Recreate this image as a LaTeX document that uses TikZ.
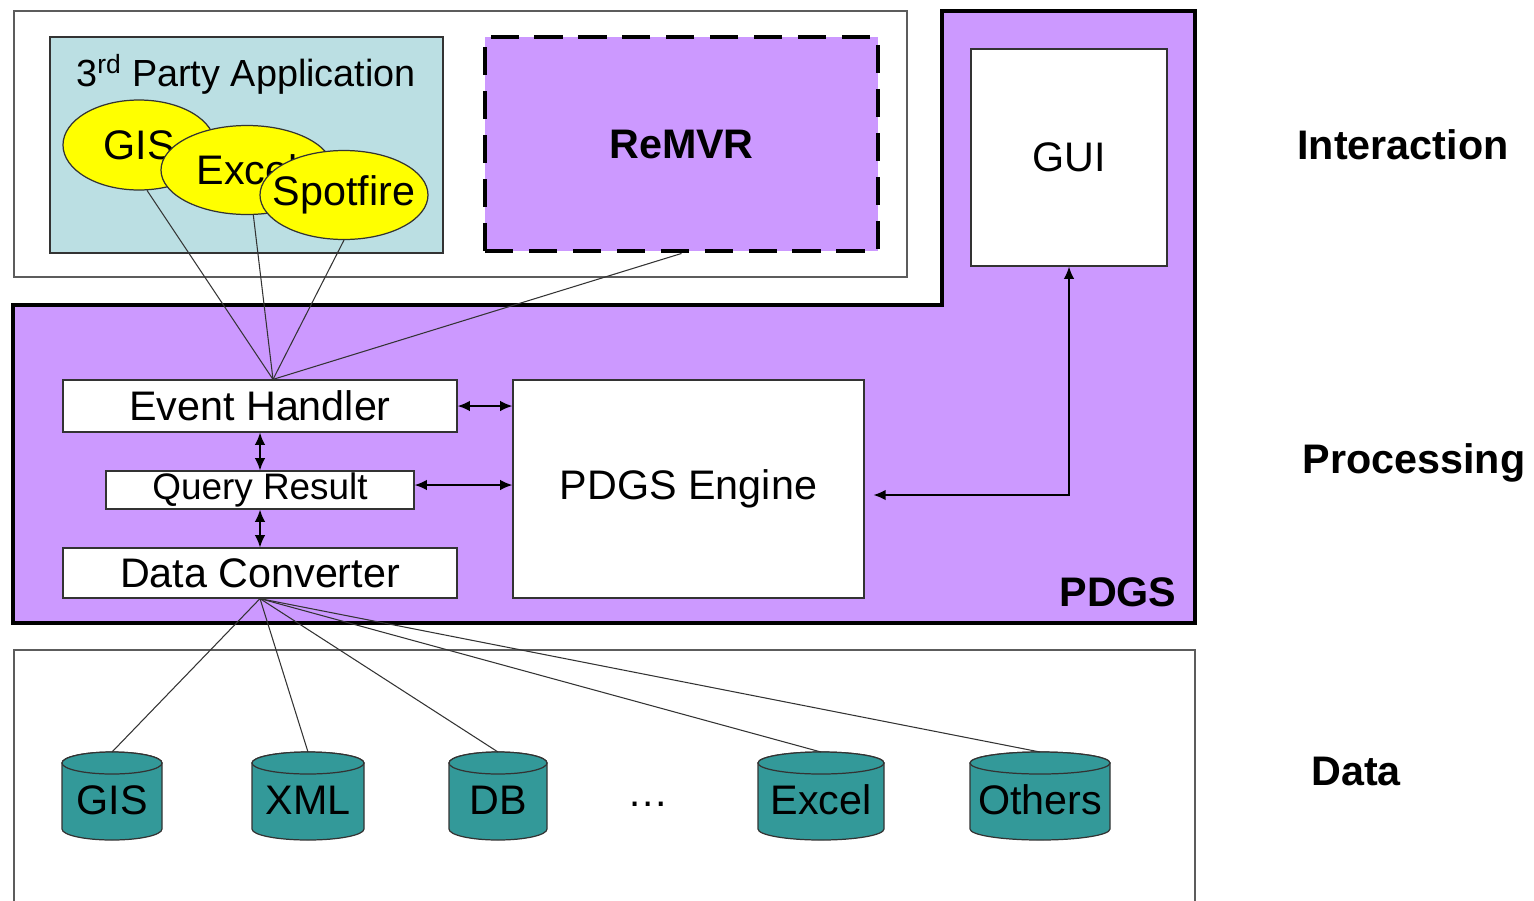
\documentclass[tikz,border=0pt]{standalone}
\usepackage{fontspec}
\setmainfont{Liberation Sans}
\usetikzlibrary{shapes.geometric,arrows.meta,calc}

\definecolor{Violet}{HTML}{CC99FF}
\definecolor{Aqua}{HTML}{BBDFE3}
\definecolor{Teal}{HTML}{339999}
\definecolor{Sun}{HTML}{FFFF00}
\definecolor{Edge}{HTML}{333333}

% cylinder: name, centre x, half width, label
\newcommand{\dbcyl}[4]{%
\filldraw[db] (#2-#3,763) -- (#2-#3,829)
  arc[start angle=180,end angle=0,x radius=#3,y radius=11] -- (#2+#3,763)
  arc[start angle=0,end angle=-180,x radius=#3,y radius=11] -- cycle;
\draw[db] (#2,763) ellipse[x radius=#3,y radius=11];
\coordinate (#1) at (#2,752);
\node (#1-lbl) at (#2,800) {#4};}

\begin{document}
\begin{tikzpicture}[x=0.02cm,y=-0.02cm,>={Latex[length=7pt,width=6pt]},
wh/.style 2 args={minimum width=#1*0.02cm,minimum height=#2*0.02cm},
box/.style={draw=Edge,fill=white,inner sep=0pt,line width=0.7pt},
app/.style={ellipse,draw=Edge,fill=Sun,inner sep=0pt,line width=0.7pt,label=center:#1},
db/.style={draw=Edge,fill=Teal,line width=0.7pt},
link/.style={draw=Edge,line width=0.6pt},
dbl/.style={<->,line width=0.9pt},
layer/.style={font=\fontsize{23.5}{28}\selectfont\bfseries},
nodes={font=\fontsize{23.5}{28}\selectfont}]
\useasboundingbox (0,0) rectangle (1534,900);

% interaction layer
\draw[draw=Edge!80,fill=white,line width=0.6pt] (14,11) rectangle (907,277);
\node[box,fill=Aqua,wh={393}{216}] (Party) at (246.5,145) {};
\node[font=\fontsize{21.5}{26}\selectfont] (PartyLbl) at (246,74) {3\textsuperscript{rd} Party Application};
\node[app=GIS,wh={152}{90}] (appGIS) at (139,145) {};
\node[app=Excel,wh={172}{89}] (appExcel) at (247,170) {};
\node[app=Spotfire,wh={168}{89}] (appSpot) at (344,195) {};
\node[draw,fill=Violet,line width=2.8pt,dash pattern=on 16pt off 9pt,
  wh={393}{214},font=\fontsize{23.5}{28}\selectfont\bfseries] (ReMVR) at (681.5,144) {ReMVR};

% processing layer
\draw[fill=Violet,line width=2.8pt] (942,11) -- (1195,11) -- (1195,623)
  -- (13,623) -- (13,305) -- (942,305) -- cycle;
\node[box,wh={196}{217}] (GUI) at (1069,157.5) {GUI};
\node[box,wh={394}{52}] (EH) at (260,406) {Event Handler};
\node[box,wh={308}{38},font=\fontsize{21}{25}\selectfont] (QR) at (260,490) {Query Result};
\node[box,wh={394}{50}] (DC) at (260,573) {Data Converter};
\node[box,wh={351}{218}] (Engine) at (688.5,489) {PDGS Engine};
\node[layer] (PDGS) at (1118,592) {PDGS};

\draw[dbl] (EH.east) -- (EH.east -| Engine.west);
\draw[dbl] ($(QR.east)+(0,-5)$) -- ($(QR.east -| Engine.west)+(0,-5)$);
\draw[dbl] (EH.south) -- (QR.north);
\draw[dbl] (QR.south) -- (DC.north);
\draw[dbl,shorten <=5pt] ($(Engine.east)+(0,6)$) -- ($(Engine.east -| GUI.south)+(0,6)$) -- (GUI.south);

\coordinate (EHtop) at ($(EH.north)+(13,0)$);
\foreach \a in {appGIS.-80,appExcel.-82,appSpot.south,ReMVR.south}
  \draw[link] (EHtop) -- (\a);

% data layer
\draw[draw=Edge!80,line width=0.6pt] (14,910) -- (14,650) -- (1195,650) -- (1195,910);
\dbcyl{dGIS}{112}{50}{GIS}
\dbcyl{dXML}{308}{56}{XML}
\dbcyl{dDB}{498}{49}{DB}
\dbcyl{dExcel}{821}{63}{Excel}
\dbcyl{dOthers}{1040}{70}{Others}
\node (dots) at (648,804) {\dots};
\foreach \d in {dGIS,dXML,dDB,dExcel,dOthers}
  \draw[link] (DC.south) -- (\d);

% layer names
\node[layer] (Inter) at (1403,145) {Interaction};
\node[layer] (Proc) at (1414,463) {Processing};
\node[layer] (Data) at (1356,771) {Data};
\end{tikzpicture}
\end{document}
